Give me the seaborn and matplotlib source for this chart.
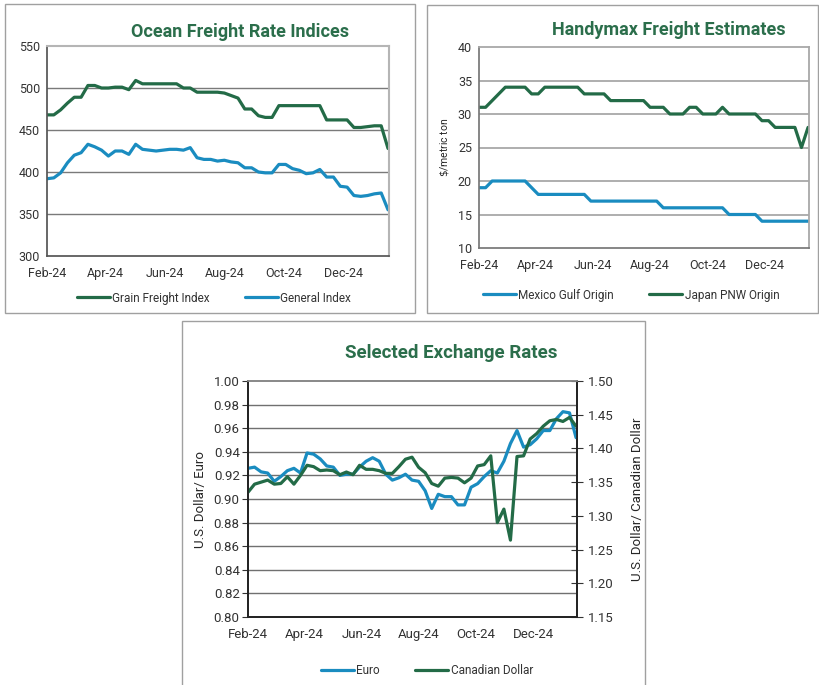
import pandas as pd
import matplotlib
matplotlib.use("Agg")
import matplotlib.pyplot as plt
import matplotlib.dates as mdates
from matplotlib.patches import Rectangle
import seaborn as sns

# weekly observations, Feb-24 .. mid Jan-25
dates = pd.date_range("2024-02-01", periods=51, freq="7D")

grain_freight = [468, 468, 474, 482, 489, 489, 503, 503, 500, 500,
                 501, 501, 498, 509, 505, 505, 505, 505, 505, 505,
                 500, 500, 495, 495, 495, 495, 494, 491, 488, 475,
                 475, 467, 465, 465, 479, 479, 479, 479, 479, 479,
                 479, 462, 462, 462, 462, 453, 453, 454, 455, 455, 428]
general_index = [392, 393, 399, 411, 420, 423, 433, 430, 426, 419,
                 425, 425, 421, 433, 427, 426, 425, 426, 427, 427,
                 426, 429, 417, 415, 415, 413, 414, 412, 411, 405,
                 405, 400, 399, 399, 409, 409, 404, 402, 398, 399,
                 403, 394, 394, 383, 382, 372, 371, 372, 374, 375, 355]

japan_pnw = [31, 31, 32, 33, 34, 34, 34, 34, 33, 33,
             34, 34, 34, 34, 34, 34, 33, 33, 33, 33,
             32, 32, 32, 32, 32, 32, 31, 31, 31, 30,
             30, 30, 31, 31, 30, 30, 30, 31, 30, 30,
             30, 30, 30, 29, 29, 28, 28, 28, 28, 25, 28]
mexico_gulf = [19, 19, 20, 20, 20, 20, 20, 20, 19, 18,
               18, 18, 18, 18, 18, 18, 18, 17, 17, 17,
               17, 17, 17, 17, 17, 17, 17, 17, 16, 16,
               16, 16, 16, 16, 16, 16, 16, 16, 15, 15,
               15, 15, 15, 14, 14, 14, 14, 14, 14, 14, 14]

euro = [0.926, 0.927, 0.923, 0.922, 0.915, 0.919, 0.924, 0.926, 0.922, 0.939,
        0.938, 0.934, 0.928, 0.927, 0.920, 0.921, 0.921, 0.927, 0.932, 0.935,
        0.932, 0.921, 0.916, 0.918, 0.921, 0.916, 0.915, 0.907, 0.892, 0.904,
        0.902, 0.902, 0.895, 0.895, 0.910, 0.913, 0.919, 0.924, 0.922, 0.932,
        0.947, 0.958, 0.944, 0.946, 0.951, 0.958, 0.958, 0.968, 0.974, 0.973, 0.952]
cad = [1.335, 1.347, 1.350, 1.353, 1.347, 1.348, 1.358, 1.347, 1.360, 1.375,
       1.373, 1.367, 1.368, 1.367, 1.361, 1.365, 1.361, 1.375, 1.369, 1.369,
       1.367, 1.363, 1.363, 1.373, 1.384, 1.387, 1.372, 1.364, 1.348, 1.344,
       1.356, 1.357, 1.356, 1.349, 1.356, 1.374, 1.376, 1.389, 1.290, 1.310,
       1.264, 1.388, 1.389, 1.414, 1.422, 1.433, 1.441, 1.443, 1.440, 1.446, 1.433]

GREEN = "#236b47"
BLUE = "#1a8cc0"
TITLE_GREEN = "#2b6e4b"
FONT = ["Roboto", "DejaVu Sans"]

sns.set_theme(style="white")
plt.rcParams["font.family"] = FONT
plt.rcParams["text.color"] = "#333333"
plt.rcParams["xtick.color"] = "#333333"
plt.rcParams["ytick.color"] = "#333333"

W, H = 820, 685
fig = plt.figure(figsize=(W / 100, H / 100), dpi=100)


def box(x0, y0, x1, y1):
    """axes/rect position from pixel edges (top-left origin)"""
    return [x0 / W, (H - y1) / H, (x1 - x0) / W, (y1 - y0) / H]


def panel_border(x0, y0, x1, y1):
    fig.patches.append(Rectangle((x0 / W, (H - y1) / H), (x1 - x0) / W, (y1 - y0) / H,
                                 transform=fig.transFigure, fill=False,
                                 edgecolor="#a0a0a0", lw=1.0))


def date_axis(ax, size=9):
    ax.xaxis.set_major_locator(mdates.MonthLocator(bymonth=[2, 4, 6, 8, 10, 12]))
    ax.xaxis.set_major_formatter(mdates.DateFormatter("%b-%y"))
    ax.set_xlim(pd.Timestamp("2024-02-01"), pd.Timestamp("2025-01-17"))
    ax.tick_params(axis="x", direction="out", length=4, width=0.8, labelsize=size, pad=4)
    ax.set_xlabel("")


def legend_at(xc, yc, labels_handles):
    hs = [h for _, h in labels_handles]
    ls = [l for l, _ in labels_handles]
    fig.legend(hs, ls, loc="center", bbox_to_anchor=(xc / W, 1 - yc / H), ncol=2,
               frameon=False, fontsize=8.5, handlelength=2.8, handletextpad=0.2,
               columnspacing=3.0)


panel_border(5, 4, 415, 313)
panel_border(427, 5, 818, 313)
panel_border(182, 321, 645, 686)

# --- Ocean Freight Rate Indices ---
ax1 = fig.add_axes(box(47, 46, 389, 256))
df1 = pd.DataFrame({"date": dates, "grain": grain_freight, "general": general_index})
sns.lineplot(data=df1, x="date", y="grain", ax=ax1, color=GREEN, lw=2.3)
sns.lineplot(data=df1, x="date", y="general", ax=ax1, color=BLUE, lw=2.3)
ax1.set_ylim(300, 550)
ax1.set_yticks([300, 350, 400, 450, 500, 550])
for v in [350, 400, 450, 500]:
    ax1.axhline(v, color="#7a7a7a", lw=1.0, zorder=0)
ax1.tick_params(axis="y", direction="out", length=3, width=0.8, labelsize=9, pad=2)
ax1.set_ylabel("")
date_axis(ax1)
for s in ["left", "bottom"]:
    ax1.spines[s].set_color("#555555")
for s in ["top", "right"]:
    ax1.spines[s].set_color("#b5b5b5")
    ax1.spines[s].set_linewidth(1.5)
fig.text(240 / W, 1 - 32 / H, "Ocean Freight Rate Indices", ha="center", va="center",
         fontsize=13, fontweight="bold", color=TITLE_GREEN)
legend_at(214, 298, [("Grain Freight Index", ax1.lines[0]),
                     ("General Index", ax1.lines[1])])

# --- Handymax Freight Estimates ---
ax2 = fig.add_axes(box(479, 47, 809, 248))
df2 = pd.DataFrame({"date": dates, "mexico": mexico_gulf, "japan": japan_pnw})
sns.lineplot(data=df2, x="date", y="mexico", ax=ax2, color=BLUE, lw=2.3)
sns.lineplot(data=df2, x="date", y="japan", ax=ax2, color=GREEN, lw=2.3)
ax2.set_ylim(10, 40)
ax2.set_yticks(range(10, 41, 5))
for v in range(15, 40, 5):
    ax2.axhline(v, color="#a8a8a8", lw=1.3, zorder=0)
ax2.tick_params(axis="y", direction="out", length=3, width=0.8, labelsize=9, pad=2)
ax2.set_ylabel("$\\$$/metric ton", fontsize=7.5, labelpad=5)
date_axis(ax2)
for s in ["left", "bottom"]:
    ax2.spines[s].set_color("#777777")
for s in ["top", "right"]:
    ax2.spines[s].set_color("#a8a8a8")
    ax2.spines[s].set_linewidth(1.3)
fig.text(669 / W, 1 - 30 / H, "Handymax Freight Estimates", ha="center", va="center",
         fontsize=13, fontweight="bold", color=TITLE_GREEN)
legend_at(631, 295, [("Mexico Gulf Origin", ax2.lines[0]),
                     ("Japan PNW Origin", ax2.lines[1])])

# --- Selected Exchange Rates ---
ax3 = fig.add_axes(box(248, 381, 577, 617))
df3 = pd.DataFrame({"date": dates, "euro": euro, "cad": cad})
sns.lineplot(data=df3, x="date", y="euro", ax=ax3, color=BLUE, lw=2.3, zorder=3)
ax3.set_ylim(0.80, 1.00)
ax3.set_yticks([0.80 + 0.02 * i for i in range(11)])
ax3.yaxis.set_major_formatter(matplotlib.ticker.FormatStrFormatter("%.2f"))
for i in range(1, 10):
    ax3.axhline(0.80 + 0.02 * i, color="#707070", lw=1.0, zorder=0)
ax3.tick_params(axis="y", direction="out", length=4, width=0.8, labelsize=9.5, pad=2)
ax3.set_ylabel("U.S. Dollar/ Euro", fontsize=9.5, labelpad=5)
date_axis(ax3, 9.5)

ax3r = ax3.twinx()
sns.lineplot(data=df3, x="date", y="cad", ax=ax3r, color=GREEN, lw=2.3)
ax3r.set_ylim(1.15, 1.50)
ax3r.set_yticks([1.15 + 0.05 * i for i in range(8)])
ax3r.yaxis.set_major_formatter(matplotlib.ticker.FormatStrFormatter("%.2f"))
ax3r.tick_params(axis="y", direction="inout", length=8, width=0.8, labelsize=9.5, pad=4)
ax3r.set_ylabel("U.S. Dollar/ Canadian Dollar", fontsize=9.5, labelpad=12)
ax3r.set_xlabel("")
date_axis(ax3r, 9.5)
for a in (ax3, ax3r):
    for s in ["left", "bottom", "right"]:
        a.spines[s].set_color("#222222")
    a.spines["top"].set_color("#8a8a8a")
fig.text(451 / W, 1 - 353 / H, "Selected Exchange Rates", ha="center", va="center",
         fontsize=13.5, fontweight="bold", color=TITLE_GREEN)
legend_at(427, 671, [("Euro", ax3.lines[0]), ("Canadian Dollar", ax3r.lines[0])])

fig.savefig("out.png", dpi=100)
